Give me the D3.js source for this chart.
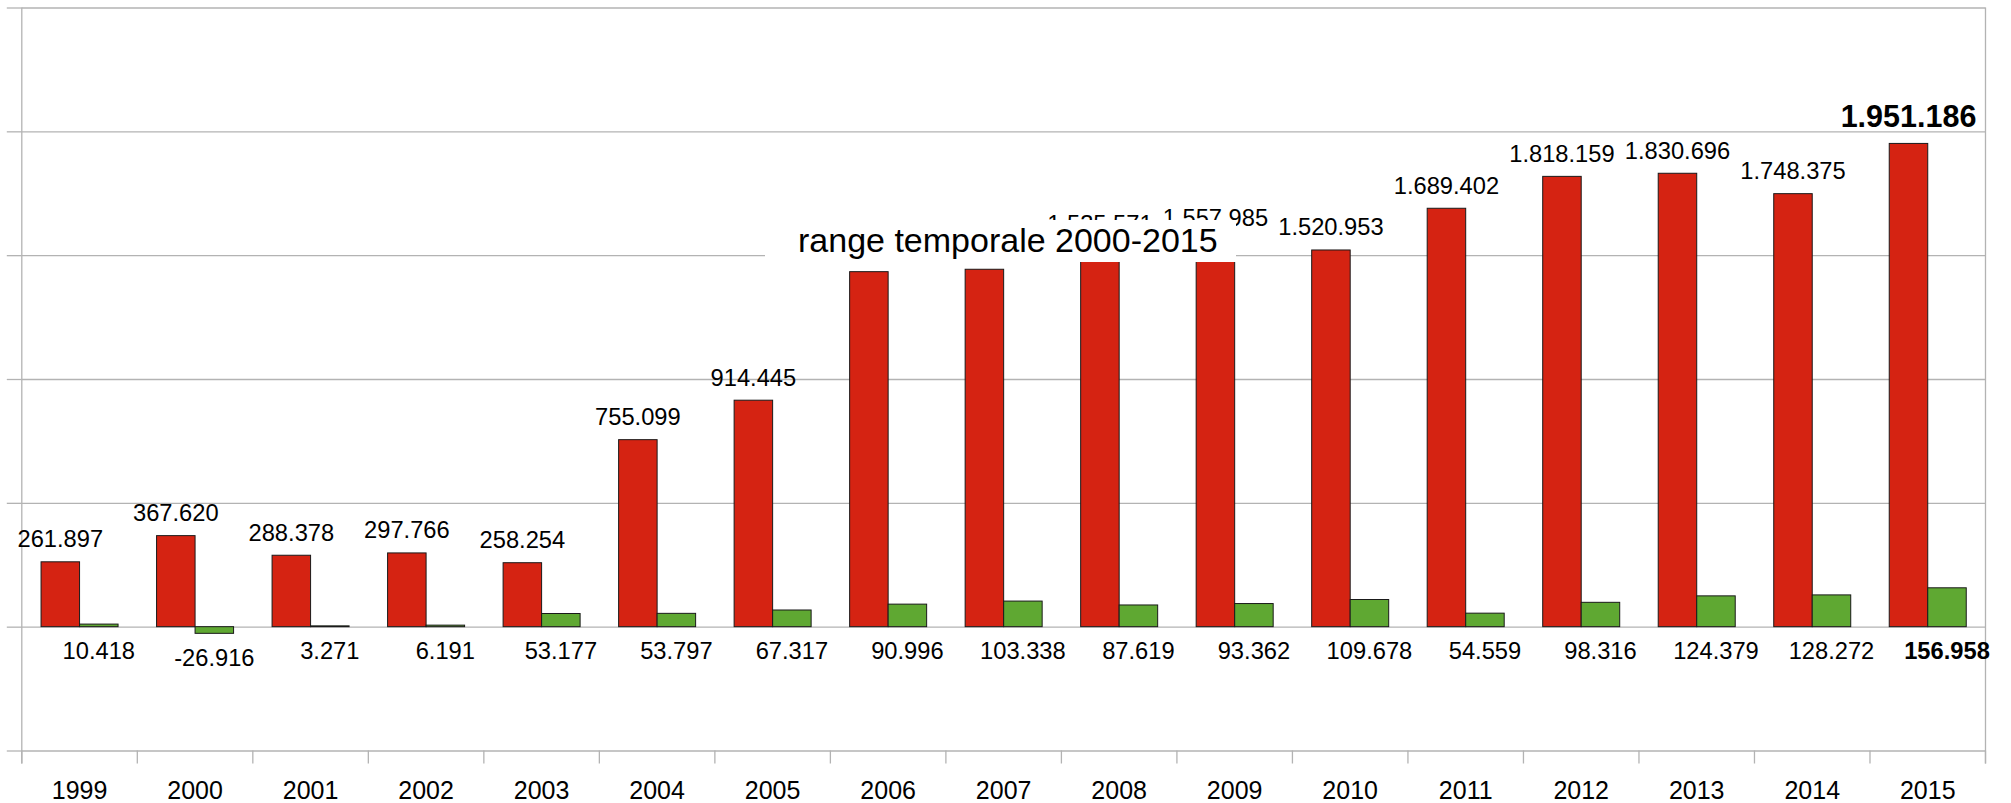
<!DOCTYPE html>
<html lang = "en">
<head>
    <meta charset="utf-8">
    <style>
        body { margin: 0; background: #FFF; }
        svg { display: block; }
        text { font-family: "Liberation Sans", Arial, sans-serif; fill: #000; }
    </style>
</head>
<body>
    <svg></svg>
    <script src="https://cdn.jsdelivr.net/npm/d3@7"></script>
    <script>
        /************************************************************************************
        * Data
        ************************************************************************************/
        const years = ["1999", "2000", "2001", "2002", "2003", "2004", "2005", "2006", "2007",
                       "2008", "2009", "2010", "2011", "2012", "2013", "2014", "2015"];
        // Red bars (labels of 2006-2008 are hidden under the text box, values estimated)
        const redValues = [261897, 367620, 288378, 297766, 258254, 755099, 914445, 1433400, 1443100,
                           1535571, 1557985, 1520953, 1689402, 1818159, 1830696, 1748375, 1951186];
        // Green bars
        const greenValues = [10418, -26916, 3271, 6191, 53177, 53797, 67317, 90996, 103338,
                             87619, 93362, 109678, 54559, 98316, 124379, 128272, 156958];
        const yTicks = [-500000, 0, 500000, 1000000, 1500000, 2000000, 2500000];
        const boxLabel = "range temporale 2000-2015";

        const svgWidth = 2011, svgHeight = 803;
        const plotLeft = 21.8, plotRight = 1985.5, plotTop = 7.5, plotBottom = 750.5;
        const red = "#D52312", green = "#5FA832";

        const svg = d3.select("svg").attr("width", svgWidth).attr("height", svgHeight);

        // Italian number format: 1.951.186
        const fmt = d3.formatLocale({ decimal: ",", thousands: ".", grouping: [3], currency: ["€", ""], minus: "-" }).format(",d");

        const x0 = d3.scaleBand().domain(years).range([plotLeft, plotRight]).padding(0);
        const bw = x0.bandwidth();
        const x1 = d3.scaleBand().domain(["red", "green"]).range([bw / 6, bw * 5 / 6]).padding(0);
        const y = d3.scaleLinear().domain([-500000, 2500000]).range([plotBottom, plotTop]);

        const data = years.map((year, i) => ({ year: year, red: redValues[i], green: greenValues[i], last: i === years.length - 1 }));

        /************************************************************************************
        * Grid and axes
        ************************************************************************************/
        const grid = svg.append("g").attr("class", "grid");
        // Horizontal gridlines
        grid.append("g")
            .attr("transform", `translate(${plotLeft}, 0)`)
            .call(d3.axisLeft(y).tickValues(yTicks).tickSize(-(plotRight - plotLeft)).tickFormat(""))
            .call(g => g.select(".domain").remove());
        // Short outer ticks on the left
        grid.append("g")
            .attr("transform", `translate(${plotLeft}, 0)`)
            .call(d3.axisLeft(y).tickValues(yTicks).tickSize(15).tickFormat(""))
            .call(g => g.select(".domain").remove());

        // Category separators below the plot
        const seps = years.map(d => x0(d)).concat([plotRight]);
        grid.append("g").selectAll("line").data(seps).join("line")
            .attr("x1", d => d).attr("x2", d => d)
            .attr("y1", plotBottom).attr("y2", plotBottom + 13);

        // Vertical frame lines
        grid.append("line").attr("x1", plotLeft).attr("x2", plotLeft).attr("y1", plotTop).attr("y2", plotBottom + 13);
        grid.append("line").attr("x1", plotRight).attr("x2", plotRight).attr("y1", plotTop).attr("y2", plotBottom + 13);

        grid.selectAll("line").attr("stroke", "#B3B3B3").attr("stroke-width", 1.3);

        // Year labels
        svg.append("g")
            .attr("transform", `translate(0, ${plotBottom})`)
            .call(d3.axisBottom(x0).tickSize(0).tickPadding(31))
            .call(g => g.select(".domain").remove())
            .selectAll("text")
            .style("font-family", "'Liberation Sans', Arial, sans-serif")
            .attr("font-size", 25)
            .attr("fill", "#000");

        /************************************************************************************
        * Bars
        ************************************************************************************/
        const groups = svg.append("g").selectAll("g").data(data).join("g")
            .attr("transform", d => `translate(${x0(d.year)}, 0)`);

        groups.append("rect")
            .attr("x", x1("red"))
            .attr("width", x1.bandwidth())
            .attr("y", d => y(Math.max(0, d.red)))
            .attr("height", d => Math.abs(y(d.red) - y(0)))
            .attr("fill", red)
            .attr("stroke", "#1A1A1A")
            .attr("stroke-width", 1);

        groups.append("rect")
            .attr("x", x1("green"))
            .attr("width", x1.bandwidth())
            .attr("y", d => y(Math.max(0, d.green)))
            .attr("height", d => Math.abs(y(d.green) - y(0)))
            .attr("fill", green)
            .attr("stroke", "#1A1A1A")
            .attr("stroke-width", 1);

        /************************************************************************************
        * Value labels
        ************************************************************************************/
        groups.append("text")
            .attr("x", x1("red") + x1.bandwidth() / 2)
            .attr("y", d => y(d.red) - (d.last ? 16.5 : 14.5))
            .attr("text-anchor", "middle")
            .attr("font-size", d => d.last ? 30.5 : 23.7)
            .attr("font-weight", d => d.last ? "bold" : "normal")
            .text(d => fmt(d.red));

        groups.append("text")
            .attr("x", x1("green") + x1.bandwidth() / 2)
            .attr("y", d => Math.max(y(0), y(d.green)) + 32.8)
            .attr("text-anchor", "middle")
            .attr("font-size", 23.7)
            .attr("font-weight", d => d.last ? "bold" : "normal")
            .text(d => fmt(d.green));

        /************************************************************************************
        * Text box
        ************************************************************************************/
        const box = svg.append("g");
        box.append("rect")
            .attr("x", 765).attr("y", 220)
            .attr("width", 471).attr("height", 42)
            .attr("fill", "#FFF");
        box.append("text")
            .attr("x", 798).attr("y", 251.7)
            .attr("font-size", 34)
            .text(boxLabel);
    </script>
</body>
</html>
